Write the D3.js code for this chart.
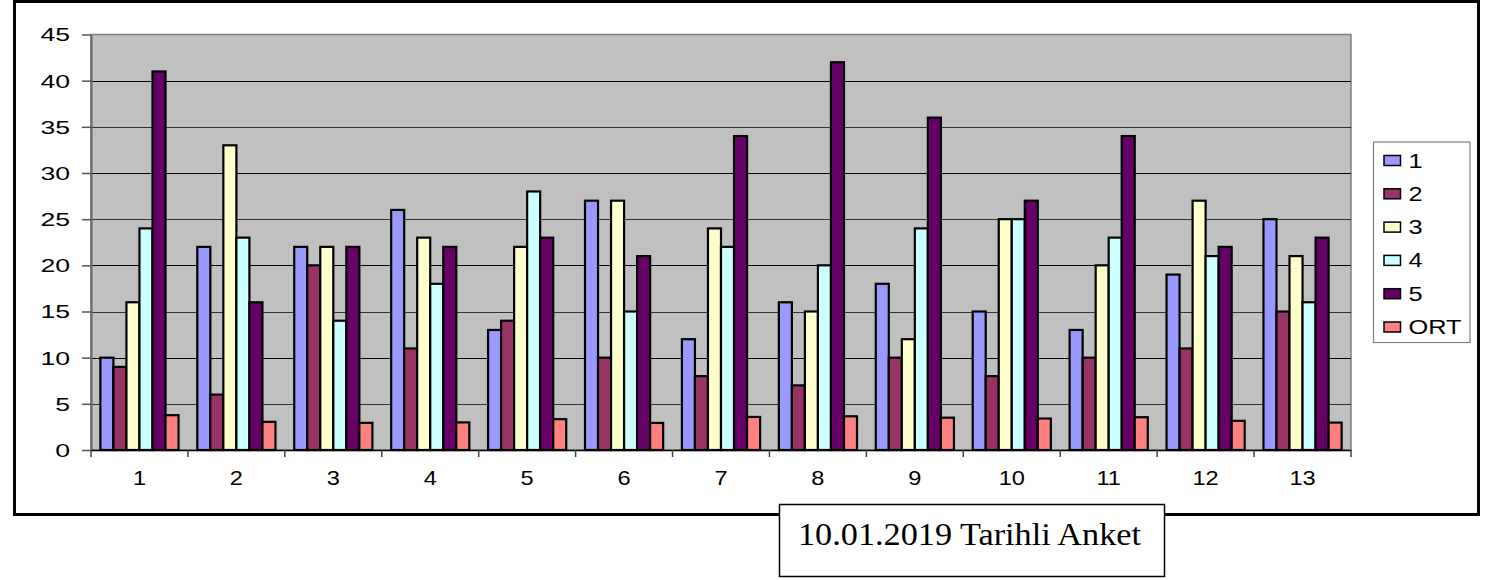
<!DOCTYPE html>
<html><head><meta charset="utf-8">
<script src="https://cdn.jsdelivr.net/npm/d3@7"></script>
<style>
html,body{margin:0;padding:0;background:#fff;}
svg{display:block;}
</style></head>
<body>
<svg id="chart" width="1492" height="580"></svg>
<script>
const categories = ["1","2","3","4","5","6","7","8","9","10","11","12","13"];
const seriesNames = ["1","2","3","4","5","ORT"];
const s1 = [10,22,22,26,13,27,12,16,18,15,13,19,25];
const s2 = [9,6,20,11,14,10,8,7,10,8,10,11,15];
const s3 = [16,33,22,23,22,27,24,15,12,25,20,27,21];
const s4 = [24,23,14,18,28,15,22,20,24,25,23,21,16];
const s5 = [41,16,22,22,23,21,34,42,36,27,34,22,23];
const ort = [3.77,3.05,2.94,2.99,3.34,2.93,3.58,3.65,3.5,3.41,3.55,3.16,2.97];
const yTicks = [0,5,10,15,20,25,30,35,40,45];
const caption = "10.01.2019 Tarihli Anket";
const colors = ["#9999FF","#993366","#FFFFCC","#CCFFFF","#660066","#FF8080"];

const seriesValues = [s1,s2,s3,s4,s5,ort];
const svg = d3.select("#chart");
const SANS = "'Liberation Sans', Arial, sans-serif";

// horizontally stretch text (reference glyphs are wider than Arial)
function stretch(sel, sx){
  sel.each(function(){
    const t = d3.select(this);
    const x = +t.attr("x") || 0;
    t.attr("x",0).attr("transform",`translate(${x},0) scale(${sx},1)`);
  });
}

// outer frame
svg.append("rect").attr("x",14.5).attr("y",1.5).attr("width",1464).attr("height",513)
  .attr("fill","#fff").attr("stroke","#000").attr("stroke-width",3);

const L = 91, R = 1351, T = 34.5, B = 450;
const x0 = d3.scaleBand().domain(categories).range([L,R]).paddingInner(0).paddingOuter(0);
const x1 = d3.scaleBand().domain(seriesNames).range([0,x0.bandwidth()]).paddingInner(0).paddingOuter(0.72);
const y = d3.scaleLinear().domain([0,45]).range([B,T]);

// plot background
svg.append("rect").attr("x",L).attr("y",T).attr("width",R-L).attr("height",B-T)
  .attr("fill","#C0C0C0").attr("stroke","#808080").attr("stroke-width",1.5);

// gridlines
svg.append("g").selectAll("line").data(yTicks.filter(d=>d>0 && d<45)).join("line")
  .attr("x1",L).attr("x2",R).attr("y1",d=>Math.round(y(d))+0.5).attr("y2",d=>Math.round(y(d))+0.5)
  .attr("stroke",d=> d%10===0 ? "#000" : "#333").attr("stroke-width",1.2);

// bars
const groups = svg.append("g").selectAll("g").data(categories).join("g")
  .attr("transform",d=>`translate(${x0(d)},0)`);
groups.selectAll("rect").data((c,ci)=>seriesNames.map((s,si)=>({s,si,v:seriesValues[si][ci]}))).join("rect")
  .attr("x",d=>x1(d.s)).attr("width",x1.bandwidth())
  .attr("y",d=>y(d.v)).attr("height",d=>B-y(d.v))
  .attr("fill",d=>colors[d.si]).attr("stroke","#000").attr("stroke-width",2.2);

// y axis
const yAxis = d3.axisLeft(y).tickValues(yTicks).tickSize(9).tickPadding(12).tickSizeOuter(0);
const gy = svg.append("g").attr("transform",`translate(${L},0)`).call(yAxis);
gy.attr("font-size",null).attr("font-family",null);
gy.select(".domain").attr("stroke","#666").attr("stroke-width",2);
gy.selectAll(".tick line").attr("stroke","#555").attr("stroke-width",1.5);
gy.selectAll("text").attr("font-family",SANS).attr("font-size",18).attr("fill","#000")
  .attr("dy","0.36em");
stretch(gy.selectAll("text"), 1.48);

// x axis
const xAxis = d3.axisBottom(x0).tickSize(0).tickPadding(21).tickSizeOuter(0);
const gx = svg.append("g").attr("transform",`translate(0,${B})`).call(xAxis);
gx.attr("font-size",null).attr("font-family",null);
gx.select(".domain").attr("stroke","#000").attr("stroke-width",1.5);
gx.selectAll("text").attr("font-family",SANS).attr("font-size",20).attr("fill","#000");
stretch(gx.selectAll("text"), 1.18);
// category boundary ticks
const bounds = categories.map(c=>x0(c)).concat([R]);
gx.append("g").selectAll("line").data(bounds).join("line")
  .attr("x1",d=>d).attr("x2",d=>d).attr("y1",0).attr("y2",7)
  .attr("stroke","#444").attr("stroke-width",1.5);

// legend
const lg = svg.append("g");
lg.append("rect").attr("x",1373.5).attr("y",142).attr("width",96.5).attr("height",200.5)
  .attr("fill","#fff").attr("stroke","#808080").attr("stroke-width",1.2);
const ly = d3.scalePoint().domain(seriesNames).range([160.5,327]);
const items = lg.selectAll("g.item").data(seriesNames).join("g").attr("class","item")
  .attr("transform",d=>`translate(0,${ly(d)})`);
items.append("rect").attr("x",1384).attr("y",-5).attr("width",16.5).attr("height",10)
  .attr("fill",(d,i)=>colors[i]).attr("stroke","#000").attr("stroke-width",1.5);
const ltext = items.append("text").attr("x",1408.5).attr("y",0).attr("dy","0.36em")
  .attr("font-family",SANS).attr("font-size",19.5).text(d=>d);
stretch(ltext, 1.3);

// caption box
svg.append("rect").attr("x",779.5).attr("y",504.5).attr("width",385).attr("height",72)
  .attr("fill","#fff").attr("stroke","#000").attr("stroke-width",1.5);
const cap = svg.append("text").attr("x",969.5).attr("y",545).attr("text-anchor","middle")
  .attr("font-family","'Liberation Serif', 'DejaVu Serif', serif").attr("font-size",32)
  .attr("fill","#000").text(caption);
stretch(cap, 1.07);
</script>
</body></html>
